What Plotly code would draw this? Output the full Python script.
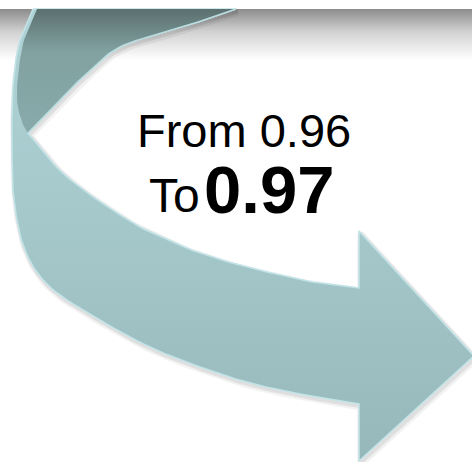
import numpy as np
import plotly.graph_objects as go

# ---- values shown in the graphic ----
labels = ["From", "To"]
values = [0.96, 0.97]

W, H = 472, 462


def smooth(pts, n=14):
    """Catmull-Rom curve through the given outline points (decorative shape only)."""
    p = np.array(pts, dtype=float)
    if len(p) < 3:
        return p
    ext = np.vstack([2 * p[0] - p[1], p, 2 * p[-1] - p[-2]])
    out = []
    for i in range(1, len(ext) - 2):
        p0, p1, p2, p3 = ext[i - 1], ext[i], ext[i + 1], ext[i + 2]
        for t in np.linspace(0, 1, n, endpoint=False):
            t2, t3 = t * t, t * t * t
            out.append(0.5 * ((2 * p1) + (-p0 + p2) * t + (2 * p0 - 5 * p1 + 4 * p2 - p3) * t2
                              + (-p0 + 3 * p1 - 3 * p2 + p3) * t3))
    out.append(p[-1])
    return np.array(out)


# ribbon outline (pixel space, y downward)
outer_edge = [(33, 9), (20, 40), (14, 75), (12, 110), (12, 150), (14, 200), (25, 250),
              (50, 287), (100, 320), (150, 347), (200, 367), (250, 383), (300, 394), (359, 404)]
head = [(359, 404), (359, 461), (474, 356), (359, 231), (359, 288)]
inner_front = [(359, 288), (313, 282), (247, 267), (200, 253), (180, 245), (133, 223),
               (67, 177), (28, 133)]
inner_back = [(28, 133), (50, 110), (83, 77), (120, 47), (180, 28), (236, 9)]
back_left = [(236, 9), (37, 9), (24, 40), (18, 75), (17, 100), (20, 116), (24, 127), (28, 133)]

oe = smooth(outer_edge)
inf = smooth(inner_front)
inb = smooth(inner_back)
bl = smooth(back_left[1:])

front = np.vstack([oe, np.array(head), inf, inb, np.array([(33, 9)])])
back = np.vstack([inb, bl])

fig = go.Figure()

# top shadow band
fig.add_trace(go.Scatter(
    x=[0, W, W, 0, 0], y=[9, 9, 60, 60, 9], mode="lines", line=dict(width=0),
    fill="toself", fillgradient=dict(type="vertical", start=9, stop=60,
                                     colorscale=[[0, "#8c8c8c"], [0.45, "#d2d2d2"], [1, "#ffffff"]]),
    hoverinfo="skip", showlegend=False))

# soft drop shadow of the ribbon
for off, a, w in [(3, 0.05, 7), (2, 0.08, 4)]:
    fig.add_trace(go.Scatter(
        x=front[:, 0] + off * 0.6, y=front[:, 1] + off, mode="lines",
        line=dict(color=f"rgba(0,0,0,{a})", width=w), hoverinfo="skip", showlegend=False))

# front (light) face of the ribbon
fig.add_trace(go.Scatter(
    x=front[:, 0], y=front[:, 1], mode="lines", line=dict(color="#c2e4e8", width=1.5),
    fill="toself", fillgradient=dict(type="vertical", start=9, stop=461,
                                     colorscale=[[0, "#afd3d6"], [0.5, "#a4c7ca"], [1, "#97b8bb"]]),
    hoverinfo="skip", showlegend=False))

# back (dark) face of the twisted ribbon
fig.add_trace(go.Scatter(
    x=back[:, 0], y=back[:, 1], mode="lines", line=dict(color="rgba(0,0,0,0)", width=0),
    fill="toself", fillgradient=dict(type="vertical", start=9, stop=133,
                                     colorscale=[[0, "#5b706f"], [0.35, "#82a2a2"], [1, "#89aaaa"]]),
    hoverinfo="skip", showlegend=False))
# light rim along the inner edge of the back face
fig.add_trace(go.Scatter(
    x=inb[:, 0], y=inb[:, 1], mode="lines", line=dict(color="#b9dde0", width=1.5),
    hoverinfo="skip", showlegend=False))

font_family = "Liberation Sans, Arial, sans-serif"
fig.add_annotation(x=244, y=130, xref="x", yref="y", text=f"{labels[0]} {values[0]:.2f}",
                   showarrow=False, xanchor="center", yanchor="middle", borderpad=0,
                   font=dict(family=font_family, size=47, color="#000000"))
fig.add_annotation(x=201, y=195, xref="x", yref="y", text=labels[1],
                   showarrow=False, xanchor="right", yanchor="middle", borderpad=0,
                   font=dict(family=font_family, size=48, color="#000000"))
fig.add_annotation(x=203, y=189, xref="x", yref="y", text=f"<b>{values[1]:.2f}</b>",
                   showarrow=False, xanchor="left", yanchor="middle", borderpad=0,
                   font=dict(family=font_family, size=67, color="#000000"))

fig.update_xaxes(range=[0, W], visible=False, fixedrange=True)
fig.update_yaxes(range=[H, 0], visible=False, fixedrange=True)
fig.update_layout(width=W, height=H, margin=dict(l=0, r=0, t=0, b=0),
                  paper_bgcolor="#ffffff", plot_bgcolor="#ffffff", showlegend=False)

fig.write_html("out.html", config={"displayModeBar": False},
               post_script="document.body.style.margin='0';document.body.style.overflow='hidden';")
